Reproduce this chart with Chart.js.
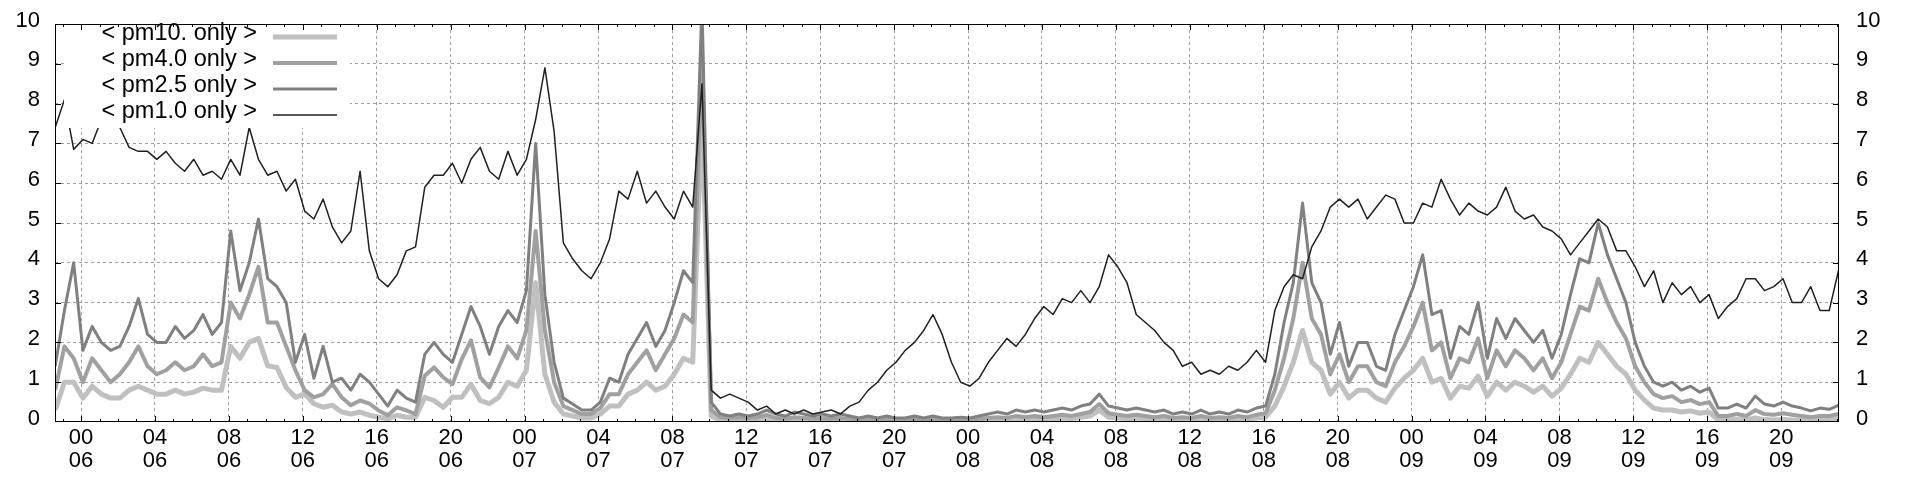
<!DOCTYPE html>
<html>
<head>
<meta charset="utf-8">
<script src="https://cdn.jsdelivr.net/npm/chart.js@4/dist/chart.umd.min.js"></script>
<style>
  html, body { margin: 0; padding: 0; background: #fff; }
</style>
</head>
<body>
<canvas id="myChart" width="1920" height="480"></canvas>
<script>
const ctx = document.getElementById('myChart');

// samples every 30 min, first one at 22:36 on the 5th (hours from 00:00 on the 6th)
const startHour = -1.4;
const stepHour = 0.5;
const firstDay = 6;

const labels = ['< pm10. only >', '< pm4.0 only >', '< pm2.5 only >', '< pm1.0 only >'];

const pm10 = [
    0.3, 1.0, 1.0, 0.6, 0.9, 0.7, 0.6, 0.6, 0.8, 0.9,
    0.8, 0.7, 0.7, 0.8, 0.7, 0.75, 0.85, 0.8, 0.8, 1.9,
    1.6, 2.0, 2.1, 1.41, 1.37, 0.87, 0.62, 0.71, 0.46, 0.37,
    0.42, 0.25, 0.2, 0.25, 0.17, 0.12, 0.08, 0.17, 0.12, 0.12,
    0.62, 0.54, 0.37, 0.62, 0.62, 0.95, 0.54, 0.46, 0.62, 1.0,
    0.9, 1.3, 3.5, 1.2, 0.5, 0.2, 0.15, 0.1, 0.1, 0.2,
    0.4, 0.4, 0.7, 0.8, 1.0, 0.8, 0.9, 1.2, 1.6, 1.5,
    7.7, 0.15, 0.05, 0.04, 0.05, 0.04, 0.05, 0.08, 0.04, 0.03,
    0.05, 0.04, 0.03, 0.04, 0.03, 0.04, 0.03, 0.03, 0.04, 0.03,
    0.03, 0.03, 0.03, 0.04, 0.03, 0.04, 0.03, 0.03, 0.03, 0.03,
    0.04, 0.05, 0.06, 0.05, 0.08, 0.06, 0.08, 0.06, 0.08, 0.1,
    0.08, 0.12, 0.15, 0.3, 0.12, 0.1, 0.08, 0.1, 0.08, 0.06,
    0.08, 0.05, 0.06, 0.05, 0.08, 0.05, 0.06, 0.05, 0.08, 0.06,
    0.1, 0.12, 0.4, 0.9, 1.5, 2.3, 1.5, 1.3, 0.7, 1.0,
    0.6, 0.8, 0.8, 0.6, 0.5, 0.85, 1.1, 1.3, 1.6, 1.0,
    1.1, 0.6, 0.9, 0.85, 1.15, 0.65, 1.0, 0.8, 1.0, 0.9,
    0.75, 0.9, 0.65, 0.85, 1.2, 1.6, 1.5, 2.0, 1.7, 1.4,
    1.2, 0.8, 0.55, 0.35, 0.3, 0.3, 0.25, 0.28, 0.22, 0.25,
    0.05, 0.05, 0.06, 0.05, 0.1, 0.06, 0.05, 0.06, 0.05, 0.04,
    0.04, 0.05, 0.05, 0.08
];

const pm4 = [
    0.8, 1.9, 1.6, 1.0, 1.6, 1.3, 1.0, 1.2, 1.5, 1.9,
    1.4, 1.2, 1.3, 1.5, 1.3, 1.4, 1.7, 1.4, 1.5, 3.0,
    2.6, 3.2, 3.9, 2.5, 2.5, 1.9, 1.3, 0.8, 0.62, 0.7,
    0.95, 0.62, 0.42, 0.54, 0.46, 0.29, 0.17, 0.37, 0.29, 0.2,
    1.16, 1.37, 1.12, 0.95, 1.58, 2.05, 1.12, 0.87, 1.37, 1.9,
    1.6, 2.3, 4.8, 2.3, 1.0, 0.4, 0.3, 0.2, 0.2, 0.35,
    0.7, 0.7, 1.2, 1.5, 1.8, 1.3, 1.7, 2.1, 2.7, 2.5,
    9.2, 0.3, 0.12, 0.1, 0.12, 0.1, 0.12, 0.18, 0.1, 0.08,
    0.12, 0.1, 0.08, 0.1, 0.08, 0.1, 0.08, 0.06, 0.08, 0.06,
    0.08, 0.06, 0.06, 0.08, 0.06, 0.08, 0.06, 0.06, 0.07, 0.06,
    0.08, 0.1, 0.12, 0.1, 0.15, 0.12, 0.15, 0.12, 0.15, 0.18,
    0.15, 0.2, 0.25, 0.45, 0.22, 0.18, 0.15, 0.18, 0.15, 0.12,
    0.15, 0.1, 0.12, 0.1, 0.15, 0.1, 0.12, 0.1, 0.15, 0.12,
    0.18, 0.22, 0.8, 1.6, 2.6, 4.0, 2.6, 2.2, 1.2, 1.7,
    1.0, 1.4, 1.4, 1.0, 0.9, 1.5, 1.9, 2.4, 3.0, 1.8,
    2.0, 1.1, 1.6, 1.5, 2.1, 1.1, 1.8, 1.4, 1.8, 1.6,
    1.3, 1.6, 1.1, 1.5, 2.2, 2.9, 2.8, 3.6, 3.0, 2.5,
    2.1, 1.4, 1.0, 0.7, 0.6, 0.65, 0.5, 0.55, 0.45, 0.5,
    0.15, 0.15, 0.2, 0.15, 0.3, 0.2, 0.18, 0.22, 0.18, 0.15,
    0.12, 0.15, 0.15, 0.2
];

const pm25 = [
    1.4, 2.8, 4.0, 1.8, 2.4, 2.0, 1.8, 1.9, 2.4, 3.1,
    2.2, 2.0, 2.0, 2.4, 2.1, 2.3, 2.7, 2.2, 2.5, 4.8,
    3.3, 4.0, 5.1, 3.6, 3.4, 3.0, 1.5, 2.2, 1.1, 1.9,
    1.0, 1.1, 0.8, 1.2, 1.0, 0.7, 0.4, 0.8, 0.6, 0.5,
    1.7, 2.0, 1.7, 1.5, 2.2, 2.9, 2.4, 1.7, 2.4, 2.8,
    2.5, 3.3, 7.0, 3.2, 1.5, 0.6, 0.45, 0.3, 0.3, 0.5,
    1.1, 1.0, 1.7, 2.1, 2.5, 1.9, 2.3, 3.0, 3.8, 3.5,
    10.5, 0.5, 0.2, 0.15, 0.2, 0.15, 0.2, 0.3, 0.2, 0.15,
    0.25, 0.2, 0.15, 0.2, 0.15, 0.2, 0.15, 0.1, 0.15, 0.1,
    0.15, 0.1, 0.1, 0.15, 0.1, 0.15, 0.1, 0.1, 0.12, 0.1,
    0.15, 0.2, 0.25, 0.2, 0.3, 0.25, 0.3, 0.25, 0.3, 0.35,
    0.3, 0.4, 0.45, 0.7, 0.4, 0.35, 0.3, 0.35, 0.3, 0.25,
    0.3, 0.2, 0.25, 0.2, 0.3, 0.2, 0.25, 0.2, 0.3, 0.25,
    0.35, 0.4, 1.2, 2.5, 3.5, 5.5, 3.5, 3.0, 1.7, 2.5,
    1.4, 2.0, 2.0, 1.4, 1.3, 2.2, 2.8, 3.4, 4.2, 2.7,
    2.8, 1.6, 2.4, 2.2, 3.0, 1.6, 2.6, 2.1, 2.6, 2.3,
    2.0, 2.3, 1.6, 2.2, 3.2, 4.1, 4.0, 5.0, 4.2, 3.6,
    3.0, 2.0, 1.4, 1.0, 0.9, 1.0, 0.8, 0.9, 0.75, 0.85,
    0.35, 0.35, 0.45, 0.35, 0.65, 0.45, 0.4, 0.5, 0.4, 0.35,
    0.28, 0.35, 0.32, 0.42
];

const pm1 = [
    7.4, 8.1, 6.85, 7.1, 7.0, 7.6, 7.5, 7.4, 6.9, 6.8,
    6.8, 6.6, 6.8, 6.5, 6.3, 6.6, 6.2, 6.3, 6.1, 6.6,
    6.2, 7.4, 6.6, 6.2, 6.3, 5.8, 6.1, 5.3, 5.1, 5.6,
    4.9, 4.5, 4.8, 6.3, 4.3, 3.6, 3.4, 3.7, 4.3, 4.4,
    5.9, 6.2, 6.2, 6.5, 6.0, 6.6, 6.9, 6.3, 6.1, 6.8,
    6.2, 6.6, 7.6, 8.9, 7.3, 4.5, 4.1, 3.8, 3.6, 4.0,
    4.6, 5.8, 5.6, 6.3, 5.5, 5.8, 5.4, 5.1, 5.8, 5.4,
    8.5, 0.8, 0.6, 0.7, 0.6, 0.5, 0.3, 0.4, 0.2, 0.3,
    0.2, 0.3, 0.2, 0.25, 0.3, 0.2, 0.4, 0.5, 0.8, 1.0,
    1.3, 1.5, 1.8, 2.0, 2.3, 2.7, 2.2, 1.5, 1.0, 0.9,
    1.1, 1.5, 1.8, 2.1, 1.9, 2.2, 2.6, 2.9, 2.7, 3.1,
    3.0, 3.3, 3.0, 3.4, 4.2, 3.9, 3.5, 2.7, 2.5, 2.3,
    2.0, 1.8, 1.4, 1.5, 1.2, 1.3, 1.2, 1.4, 1.3, 1.5,
    1.8, 1.5, 2.8, 3.4, 3.7, 3.6, 4.4, 4.8, 5.4, 5.6,
    5.4, 5.6, 5.1, 5.4, 5.7, 5.6, 5.0, 5.0, 5.5, 5.4,
    6.1, 5.6, 5.2, 5.5, 5.3, 5.2, 5.4, 5.9, 5.3, 5.1,
    5.2, 4.9, 4.8, 4.6, 4.2, 4.5, 4.8, 5.1, 4.9, 4.3,
    4.3, 3.9, 3.4, 3.8, 3.0, 3.5, 3.2, 3.4, 3.0, 3.2,
    2.6, 2.9, 3.1, 3.6, 3.6, 3.3, 3.4, 3.6, 3.0, 3.0,
    3.4, 2.8, 2.8, 3.8
];

const hours = pm1.map((v, i) => startHour + i * stepHour);
const toPoints = arr => arr.map((v, i) => ({ x: hours[i], y: v }));
const pad2 = n => String(n).padStart(2, '0');
const FONT = 'Liberation Sans';

const data = {
    datasets: [
        { label: labels[0], data: toPoints(pm10), borderColor: '#c0c0c0', borderWidth: 5, order: 3 },
        { label: labels[1], data: toPoints(pm4), borderColor: '#a0a0a0', borderWidth: 4, order: 2 },
        { label: labels[2], data: toPoints(pm25), borderColor: '#808080', borderWidth: 3, order: 1 },
        { label: labels[3], data: toPoints(pm1), borderColor: '#202020', borderWidth: 1.5, order: 0 }
    ]
};

const whiteBackground = {
    id: 'whiteBackground',
    beforeDraw: (chart) => {
        const { ctx } = chart;
        ctx.save();
        ctx.fillStyle = '#ffffff';
        ctx.fillRect(0, 0, chart.width, chart.height);
        ctx.restore();
    }
};

// gnuplot-like opaque key, frame and inward tics
const frame = {
    id: 'frame',
    afterDatasetsDraw: (chart) => {
        const { ctx, chartArea: a, scales } = chart;
        ctx.save();

        ctx.fillStyle = '#ffffff';
        ctx.fillRect(64, a.top + 1, 286, 128 - a.top - 1);
        const rows = [37, 63, 89, 115];
        ctx.font = '23.5px "' + FONT + '"';
        ctx.textAlign = 'right';
        ctx.textBaseline = 'middle';
        chart.data.datasets.forEach((ds, k) => {
            ctx.fillStyle = '#000';
            ctx.fillText(ds.label, 257, rows[k] - 3);
            ctx.strokeStyle = ds.borderColor;
            ctx.lineWidth = ds.borderWidth;
            ctx.beginPath();
            ctx.moveTo(273, rows[k]);
            ctx.lineTo(337, rows[k]);
            ctx.stroke();
        });

        ctx.strokeStyle = '#000';
        ctx.lineWidth = 1;
        ctx.strokeRect(Math.round(a.left) + 0.5, Math.round(a.top) + 0.5,
            Math.round(a.right - a.left) - 1, Math.round(a.bottom - a.top) - 1);

        ctx.beginPath();
        for (let h = Math.ceil(scales.x.min); h <= scales.x.max; h++) {
            const px = Math.round(scales.x.getPixelForValue(h)) + 0.5;
            const len = h % 4 === 0 ? 6 : 3;
            ctx.moveTo(px, a.bottom);
            ctx.lineTo(px, a.bottom - len);
            ctx.moveTo(px, a.top);
            ctx.lineTo(px, a.top + len);
        }
        for (let v = 1; v < 10; v++) {
            const py = Math.round(scales.y.getPixelForValue(v)) + 0.5;
            ctx.moveTo(a.left, py);
            ctx.lineTo(a.left + 6, py);
            ctx.moveTo(a.right, py);
            ctx.lineTo(a.right - 6, py);
        }
        ctx.stroke();
        ctx.restore();
    }
};

const yTicks = (padding) => ({
    stepSize: 1,
    padding: padding,
    color: '#000',
    font: { family: FONT, size: 22, lineHeight: '7px' },
    callback: (value) => [String(value), '']
});

const cfg = {
    type: 'line',
    data: data,
    options: {
        responsive: false,
        animation: false,
        layout: { padding: { top: 21, left: 0, right: 0, bottom: 0 } },
        elements: {
            point: { radius: 0 },
            line: { tension: 0, borderJoinStyle: 'round', fill: false }
        },
        plugins: {
            legend: { display: false },
            tooltip: { enabled: false }
        },
        scales: {
            x: {
                type: 'linear',
                min: -1.41,
                max: 95.13,
                afterBuildTicks: (scale) => {
                    const t = [];
                    for (let h = -1; h <= 95; h++) t.push({ value: h });
                    scale.ticks = t;
                },
                afterFit: (scale) => { scale.height = 58; },
                grid: {
                    color: (c) => (c.tick && c.tick.value % 4 === 0) ? '#a0a0a0' : 'rgba(0,0,0,0)',
                    drawTicks: false
                },
                border: { display: false, dash: [3, 3] },
                ticks: {
                    autoSkip: false,
                    maxRotation: 0,
                    padding: 4,
                    color: '#000',
                    font: { family: FONT, size: 22, lineHeight: '23.5px' },
                    callback: (value) => {
                        if (value % 4 !== 0) return '';
                        const hh = ((value % 24) + 24) % 24;
                        const dd = firstDay + Math.floor(value / 24);
                        return [pad2(hh), pad2(dd)];
                    }
                }
            },
            y: {
                position: 'left',
                min: 0,
                max: 10,
                afterFit: (scale) => { scale.width = 55; },
                grid: {
                    color: (c) => (c.tick && c.tick.value > 0 && c.tick.value < 10) ? '#a0a0a0' : 'rgba(0,0,0,0)',
                    drawTicks: false
                },
                border: { display: false, dash: [3, 3] },
                ticks: yTicks(15)
            },
            y2: {
                position: 'right',
                min: 0,
                max: 10,
                afterFit: (scale) => { scale.width = 81; },
                grid: { display: false, drawTicks: false },
                border: { display: false },
                ticks: yTicks(17)
            }
        }
    },
    plugins: [whiteBackground, frame]
};

new Chart(ctx, cfg);
</script>
</body>
</html>
